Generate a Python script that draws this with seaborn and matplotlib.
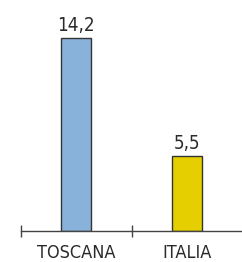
import matplotlib
matplotlib.use('Agg')
import matplotlib.pyplot as plt
import seaborn as sns
import pandas as pd

# data
categories = ["TOSCANA", "ITALIA"]
values = [14.2, 5.5]
value_labels = ["14,2", "5,5"]
bar_colors = ["#89B2DA", "#E6CF00"]

sns.set_style("white")
plt.rcParams['font.family'] = ['DejaVu Sans']
plt.rcParams['font.stretch'] = 'condensed'

df = pd.DataFrame({"area": categories, "valore": values})

fig = plt.figure(figsize=(2.42, 2.62), dpi=100)
ax = fig.add_axes([21 / 242, 31 / 262, 221 / 242, 231 / 262])

sns.barplot(data=df, x="area", y="valore", hue="area", palette=bar_colors,
            saturation=1, width=0.27, edgecolor="#333333", linewidth=1.0,
            legend=False, ax=ax)

for cont, lab in zip(ax.containers, value_labels):
    ax.bar_label(cont, labels=[lab], padding=2, fontsize=13.5, color="#2a2a2a")

ax.set_xlim(-0.5, 1.5)
ax.set_ylim(0, 17)
ax.set_xlabel("")
ax.set_ylabel("")
ax.set_yticks([])

for s in ["top", "right", "left"]:
    ax.spines[s].set_visible(False)
ax.spines["bottom"].set_color("#444444")
ax.spines["bottom"].set_linewidth(1.0)

ax.set_xticks(range(len(categories)))
ax.set_xticklabels(categories, fontsize=13, color="#2a2a2a")
ax.tick_params(axis="x", which="major", bottom=False, length=0, pad=9)
ax.set_xticks([-0.5, 0.5], minor=True)
ax.tick_params(axis="x", which="minor", bottom=True, direction="inout",
               length=9, width=1.0, color="#444444")

fig.savefig("out.png", dpi=100)
